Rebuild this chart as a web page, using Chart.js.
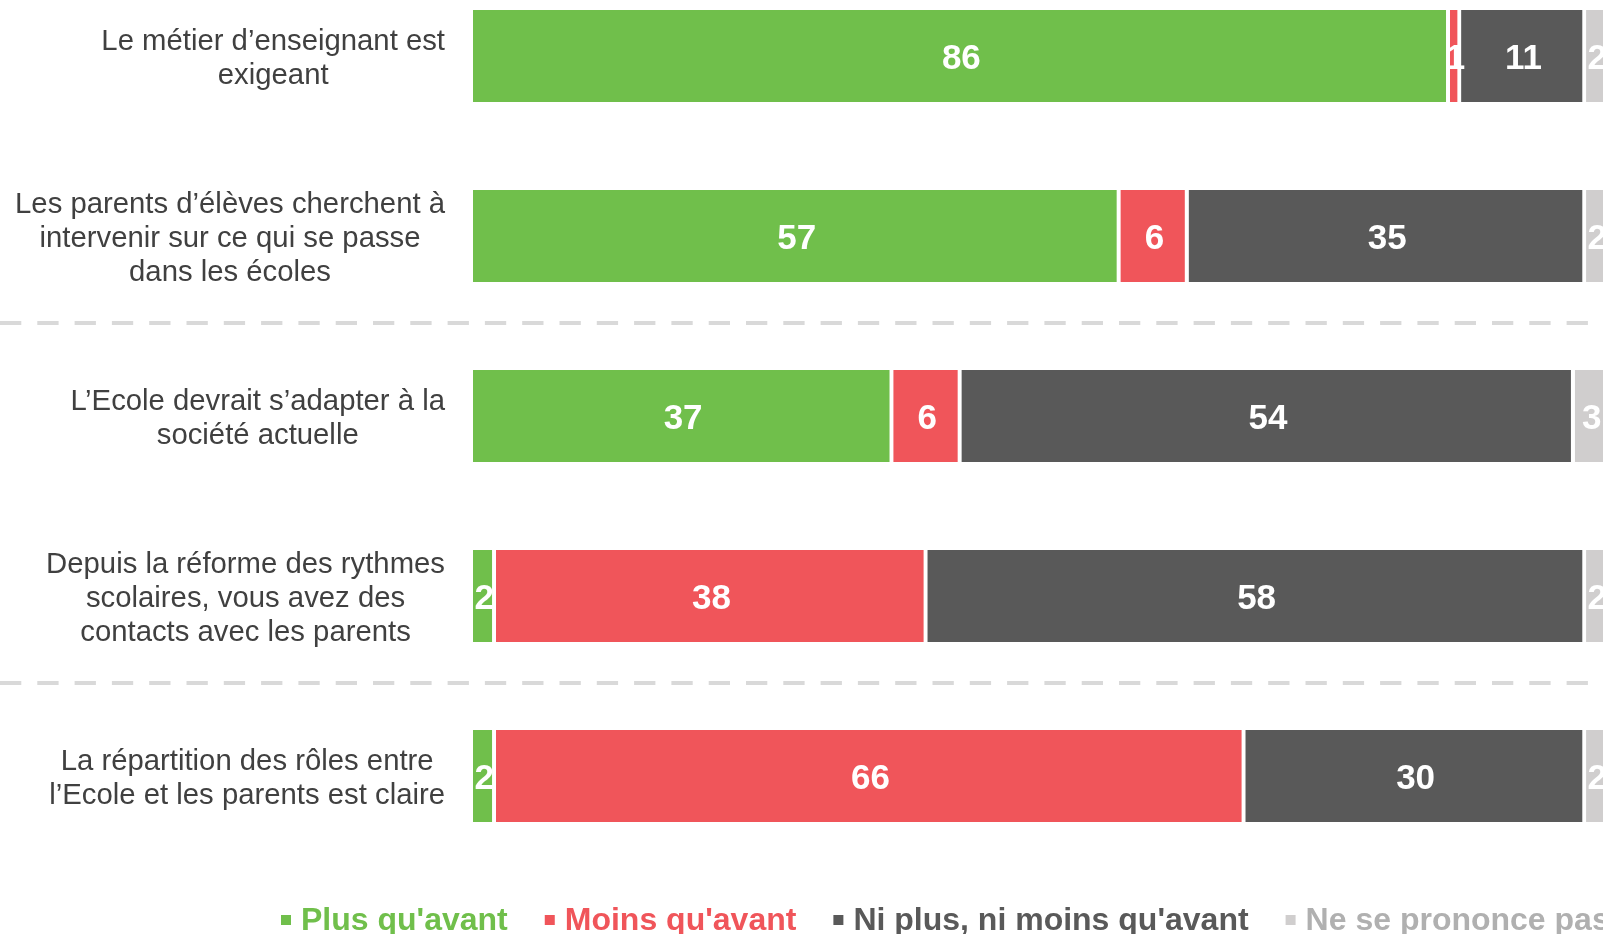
<!DOCTYPE html>
<html>
<head>
<meta charset="utf-8">
<script src="https://cdn.jsdelivr.net/npm/chart.js@4/dist/chart.umd.min.js"></script>
<style>
  html, body { margin: 0; padding: 0; background: #fff; overflow: hidden; }
  #wrap { width: 1603px; height: 934px; position: relative; }
</style>
</head>
<body>
<div id="wrap"><canvas id="chart"></canvas></div>
<script>
// questions (une ligne par élément)
const categories = [
  ["Le métier d’enseignant est", "exigeant"],
  ["Les parents d’élèves cherchent à", "intervenir sur ce qui se passe", "dans les écoles"],
  ["L’Ecole devrait s’adapter à la", "société actuelle"],
  ["Depuis la réforme des rythmes", "scolaires, vous avez des", "contacts avec les parents"],
  ["La répartition des rôles entre", "l’Ecole et les parents est claire"],
];

const seriesNames = ["Plus qu'avant", "Moins qu'avant", "Ni plus, ni moins qu'avant", "Ne se prononce pas"];
const plusValues = [86, 57, 37, 2, 2];
const moinsValues = [1, 6, 6, 38, 66];
const niValues = [11, 35, 54, 58, 30];
const nspValues = [2, 2, 3, 2, 2];

const colors = ["#70bf4b", "#f0555a", "#595959", "#d0cece"];
const legendTextColors = ["#70bf4b", "#f0555a", "#595959", "#b0b0b0"];
const separatorsAfter = [1, 3]; // traits pointillés entre les groupes

const FONT = "'Liberation Sans', Arial, sans-serif";

// libellés des questions, centrés ligne à ligne, bloc aligné à droite
const questionLabels = {
  id: "questionLabels",
  afterDraw(chart) {
    const ctx = chart.ctx;
    const y = chart.scales.y;
    ctx.save();
    ctx.font = "29.3px " + FONT;
    ctx.fillStyle = "#404040";
    ctx.textAlign = "center";
    ctx.textBaseline = "middle";
    const lineH = 33.7;
    categories.forEach((lines, i) => {
      const cy = y.getPixelForValue(i) + 3;
      const w = Math.max(...lines.map((l) => ctx.measureText(l).width));
      const cx = 445 - w / 2;
      lines.forEach((l, k) => {
        ctx.fillText(l, cx, cy + (k - (lines.length - 1) / 2) * lineH);
      });
    });
    ctx.restore();
  },
};

// séparateurs pointillés
const dashedSeparators = {
  id: "dashedSeparators",
  beforeDatasetsDraw(chart) {
    const ctx = chart.ctx;
    const y = chart.scales.y;
    ctx.save();
    ctx.strokeStyle = "#d9d9d9";
    ctx.lineWidth = 4;
    ctx.setLineDash([21.3, 16]);
    separatorsAfter.forEach((i) => {
      const py = Math.round(y.getPixelForValue(i + 0.5)) - 3;
      ctx.beginPath();
      ctx.moveTo(0, py);
      ctx.lineTo(1588, py);
      ctx.stroke();
    });
    ctx.restore();
  },
};

// valeurs dans les barres
const valueLabels = {
  id: "valueLabels",
  afterDatasetsDraw(chart) {
    const ctx = chart.ctx;
    ctx.save();
    ctx.font = "bold 35px " + FONT;
    ctx.fillStyle = "#fff";
    ctx.textAlign = "center";
    ctx.textBaseline = "middle";
    chart.data.datasets.forEach((ds, di) => {
      chart.getDatasetMeta(di).data.forEach((bar, i) => {
        const cx = (bar.x + bar.base) / 2;
        ctx.fillText(String(ds.data[i]), cx, bar.y + 3);
      });
    });
    ctx.restore();
  },
};

// légende en bas, texte de la couleur de la série
const bottomLegend = {
  id: "bottomLegend",
  afterDraw(chart) {
    const ctx = chart.ctx;
    ctx.save();
    ctx.font = "bold 32px " + FONT;
    ctx.textBaseline = "middle";
    ctx.textAlign = "left";
    let x = 281;
    const y = 921;
    seriesNames.forEach((name, i) => {
      ctx.fillStyle = colors[i];
      ctx.fillRect(x, y - 6, 10, 10);
      ctx.fillStyle = legendTextColors[i];
      ctx.fillText(name, x + 20, y);
      x += 20 + ctx.measureText(name).width + 37;
    });
    ctx.restore();
  },
};

const datasets = [plusValues, moinsValues, niValues, nspValues].map((vals, i) => ({
  label: seriesNames[i],
  data: vals,
  backgroundColor: colors[i],
  borderColor: "#fff",
  borderWidth: { top: 0, right: 4, bottom: 0, left: 0 },
  borderSkipped: false,
  barThickness: 92,
  clip: false,
}));

new Chart(document.getElementById("chart"), {
  type: "bar",
  data: {
    labels: categories.map((c) => c.join(" ")),
    datasets: datasets,
  },
  options: {
    indexAxis: "y",
    responsive: true,
    maintainAspectRatio: false,
    animation: false,
    layout: {
      padding: { left: 473, right: 0, top: 56, bottom: 158 },
    },
    scales: {
      x: { stacked: true, min: 0, max: 99.5, display: false },
      y: { stacked: true, offset: false, display: false },
    },
    plugins: {
      legend: { display: false },
      tooltip: { enabled: false },
    },
  },
  plugins: [dashedSeparators, valueLabels, questionLabels, bottomLegend],
});
</script>
</body>
</html>
